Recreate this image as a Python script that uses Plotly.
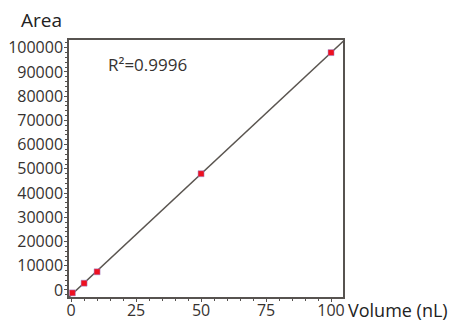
import numpy as np
import plotly.graph_objects as go

# Data
volume_nl = [0.5, 5, 10, 50, 100]
area = [-1200, 2800, 7500, 48000, 98000]
x_ticks = [0, 25, 50, 75, 100]
y_ticks = [0, 10000, 20000, 30000, 40000, 50000, 60000, 70000, 80000, 90000, 100000]
fit_x_span = [-1, 106]
r2_label = "R²=0.9996"

slope, intercept = np.polyfit(volume_nl, area, 1)
fit_x = np.array(fit_x_span)
fit_y = slope * fit_x + intercept

FONT = "Open Sans"
AXC = "#575350"
TXT = "#363230"

fig = go.Figure()
fig.add_trace(go.Scatter(x=fit_x, y=fit_y, mode="lines",
                         line=dict(color="#5a5550", width=1.5),
                         hoverinfo="skip", showlegend=False))
fig.add_trace(go.Scatter(x=volume_nl, y=area, mode="markers",
                         marker=dict(symbol="square", size=6, color="#ee1020",
                                     line=dict(color="#9a8fd8", width=0.5)),
                         cliponaxis=False, showlegend=False))

fig.update_layout(
    width=450, height=320,
    margin=dict(l=61, r=115, t=32, b=31, autoexpand=False),
    paper_bgcolor="white", plot_bgcolor="white",
    font=dict(family=FONT, size=17, color=TXT),
    xaxis=dict(range=[-0.8, 104.6], tickvals=x_ticks, ticktext=[str(v) for v in x_ticks],
               showgrid=False, zeroline=False, showline=True, mirror=True, automargin=False,
               linecolor=AXC, linewidth=1.5, ticks="outside", ticklen=3,
               tickcolor=AXC, tickwidth=1, ticklabelstandoff=-5,
               minor=dict(dtick=5, ticks="outside", ticklen=2, tickcolor=AXC),
               tickfont=dict(family=FONT, size=16, color=TXT)),
    yaxis=dict(range=[-2900, 103200], tickvals=y_ticks, ticktext=[str(v) for v in y_ticks],
               showgrid=False, zeroline=False, showline=True, mirror=True, automargin=False,
               linecolor=AXC, linewidth=1.5, ticks="outside", ticklen=3,
               tickcolor=AXC, tickwidth=1, ticklabelstandoff=-2,
               minor=dict(dtick=2000, tick0=0, ticks="outside", ticklen=2, tickcolor=AXC),
               tickfont=dict(family=FONT, size=16, color=TXT)),
    annotations=[
        dict(text="Area", xref="paper", yref="paper", x=-0.182, y=1.078,
             xanchor="left", yanchor="middle", showarrow=False,
             font=dict(family=FONT, size=19, color="#222")),
        dict(text="Volume (nL)", xref="paper", yref="paper", x=1.012, y=-0.05,
             xanchor="left", yanchor="middle", showarrow=False,
             font=dict(family=FONT, size=18, color="#222")),
        dict(text=r2_label, xref="paper", yref="paper", x=0.136, y=0.903,
             xanchor="left", yanchor="middle", showarrow=False,
             font=dict(family=FONT, size=17, color=TXT)),
    ],
)

fig.write_html("out.html")
